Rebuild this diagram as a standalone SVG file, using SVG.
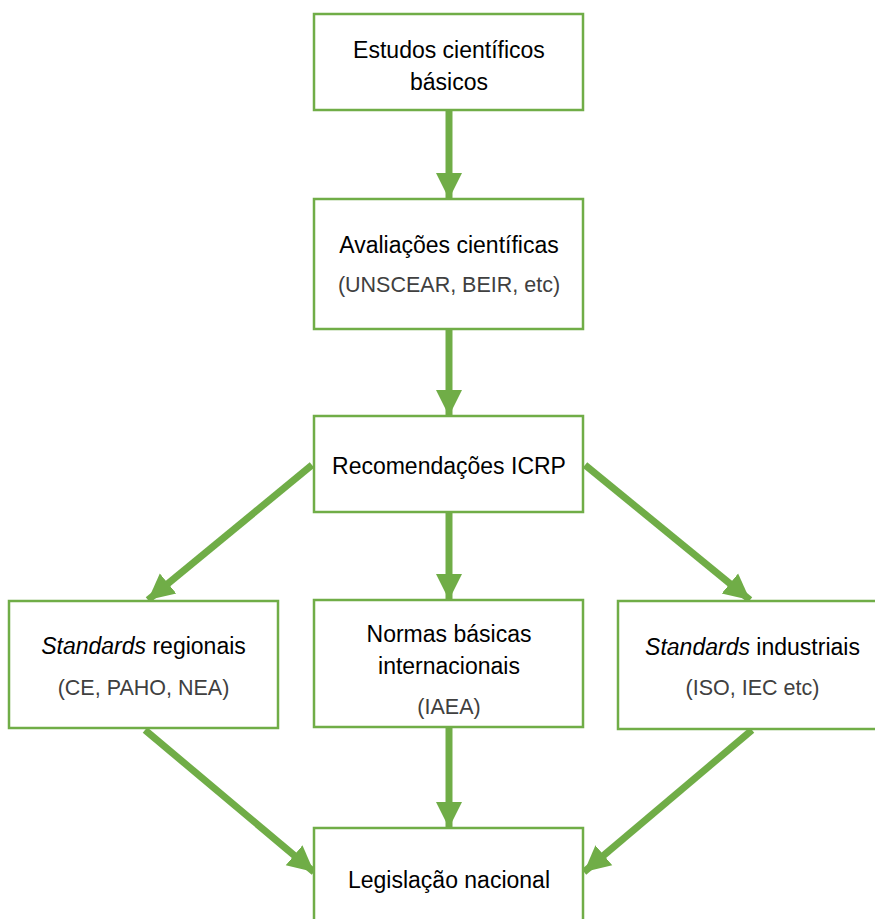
<svg xmlns="http://www.w3.org/2000/svg" width="875" height="919" viewBox="0 0 875 919">
<style>
.box{fill:#fff;stroke:#70AD47;stroke-width:2.5}
.t{font-family:"Liberation Sans",Arial,sans-serif;font-size:23px;fill:#000;text-anchor:middle}
.s{font-family:"Liberation Sans",Arial,sans-serif;font-size:21.5px;fill:#404040;text-anchor:middle}
.c{stroke:#70AD47;stroke-width:7;fill:none}
</style>
<defs>
<marker id="ah" markerUnits="userSpaceOnUse" markerWidth="28" markerHeight="28" viewBox="0 0 28 28" refX="26" refY="14" orient="auto">
<path d="M0,1 L26,14 L0,27 Z" fill="#70AD47"/>
</marker>
</defs>
<rect width="875" height="919" fill="#fff"/>
<g id="connectors">
<line class="c" x1="449" y1="110" x2="449" y2="199" marker-end="url(#ah)"/>
<line class="c" x1="449" y1="329" x2="449" y2="416" marker-end="url(#ah)"/>
<line class="c" x1="449" y1="512" x2="449" y2="600" marker-end="url(#ah)"/>
<line class="c" x1="312" y1="465" x2="148" y2="600" marker-end="url(#ah)"/>
<line class="c" x1="585" y1="465" x2="750" y2="600" marker-end="url(#ah)"/>
<line class="c" x1="449" y1="727" x2="449" y2="828" marker-end="url(#ah)"/>
<line class="c" x1="145" y1="730" x2="314" y2="872" marker-end="url(#ah)"/>
<line class="c" x1="752" y1="730" x2="584" y2="872" marker-end="url(#ah)"/>
</g>
<g id="n1">
<rect class="box" x="314" y="14" width="269" height="96"/>
<text class="t" x="449" y="58">Estudos científicos</text>
<text class="t" x="449" y="90">básicos</text>
</g>
<g id="n2">
<rect class="box" x="314" y="199" width="269" height="130"/>
<text class="t" x="449" y="253">Avaliações científicas</text>
<text class="s" x="449" y="292">(UNSCEAR, BEIR, etc)</text>
</g>
<g id="n3">
<rect class="box" x="314" y="416" width="269" height="96"/>
<text class="t" x="449" y="474">Recomendações ICRP</text>
</g>
<g id="n4">
<rect class="box" x="9" y="601" width="269" height="127"/>
<text class="t" x="143.5" y="654"><tspan font-style="italic">Standards</tspan> regionais</text>
<text class="s" x="143.5" y="695">(CE, PAHO, NEA)</text>
</g>
<g id="n5">
<rect class="box" x="314" y="600" width="269" height="127"/>
<text class="t" x="449" y="642">Normas básicas</text>
<text class="t" x="449" y="674">internacionais</text>
<text class="s" x="449" y="714">(IAEA)</text>
</g>
<g id="n6">
<rect class="box" x="618" y="601" width="269" height="128"/>
<text class="t" x="752.5" y="655"><tspan font-style="italic">Standards</tspan> industriais</text>
<text class="s" x="752.5" y="695">(ISO, IEC etc)</text>
</g>
<g id="n7">
<rect class="box" x="314" y="828" width="269" height="110"/>
<text class="t" x="449" y="888">Legislação nacional</text>
</g>
</svg>
